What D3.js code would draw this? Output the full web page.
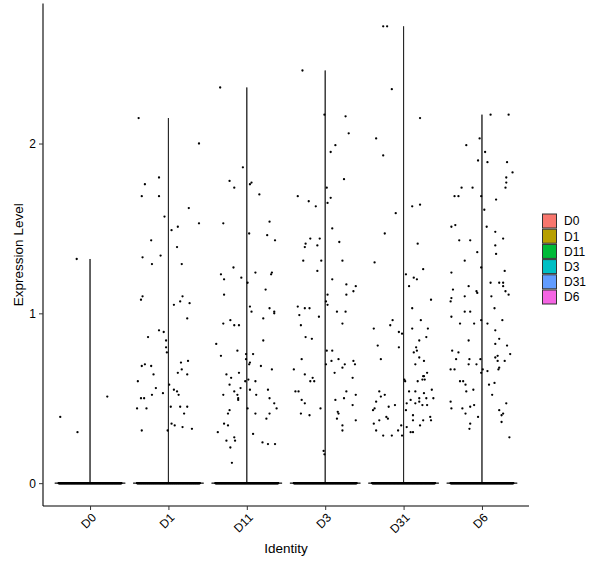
<!DOCTYPE html>
<html>
<head>
<meta charset="utf-8">
<script src="https://cdn.jsdelivr.net/npm/d3@7"></script>
<style>
  body { margin: 0; background: white; }
  text { font-family: "Liberation Sans", Arial, sans-serif; }
</style>
</head>
<body>
<svg id="vln"></svg>
<script>
const identities = ["D0", "D1", "D11", "D3", "D31", "D6"]
const identColors = ["#F8766D", "#B79F00", "#00BA38", "#00BFC4", "#619CFF", "#F564E3"]
const yTicks = [0, 1, 2]

// cells with zero expression per identity
const zeroCounts = [300, 260, 280, 270, 290, 270]

// non-zero cells: [expression, jitter offset in category widths]
const exprD0 = [[1.32,-0.17],[0.39,-0.38],[0.30,-0.16],[0.51,0.22]]
const exprD1 = [[2.15,-0.38],[2.00,0.39],[1.80,-0.12],[1.76,-0.30],[1.69,-0.34],[1.69,-0.12],[1.62,0.26],[1.57,-0.05],[1.51,0.12],[1.49,0.04],[1.53,0.39],[1.43,-0.22],[1.39,0.11],[1.33,-0.33],[1.34,-0.10],[1.29,-0.21],[1.29,0.17],[1.10,-0.33],[1.08,-0.35],[1.10,0.18],[1.07,0.15],[1.05,0.07],[1.06,0.27],[0.97,0.24],[0.90,-0.12],[0.89,-0.06],[0.86,-0.26],[0.84,-0.03],[0.80,-0.03],[0.77,-0.02],[0.69,-0.34],[0.70,-0.30],[0.69,-0.22],[0.71,0.16],[0.72,0.25],[0.67,0.17],[0.65,0.12],[0.64,0.24],[0.64,-0.19],[0.60,-0.39],[0.58,0.01],[0.56,-0.16],[0.55,0.07],[0.54,0.11],[0.52,0.13],[0.53,-0.07],[0.52,-0.21],[0.50,-0.35],[0.50,-0.31],[0.45,0.03],[0.45,0.15],[0.45,0.24],[0.44,-0.40],[0.44,-0.28],[0.41,0.20],[0.35,0.04],[0.34,0.08],[0.33,0.18],[0.32,0.30],[0.31,-0.34],[0.31,-0.01]]
const exprD11 = [[2.33,-0.34],[1.86,-0.05],[1.78,-0.22],[1.77,0.06],[1.76,0.04],[1.74,-0.16],[1.70,0.16],[1.53,-0.30],[1.54,0.29],[1.47,0.03],[1.46,0.26],[1.43,0.36],[1.27,-0.17],[1.23,-0.33],[1.24,0.11],[1.24,0.32],[1.23,0.31],[1.20,-0.29],[1.21,-0.07],[1.18,0.01],[1.14,0.24],[1.11,-0.29],[1.04,0.04],[1.01,0.06],[1.03,0.29],[1.01,0.35],[1.00,0.35],[0.97,0.21],[0.96,-0.21],[0.94,-0.30],[0.93,-0.16],[0.93,-0.10],[0.84,0.21],[0.82,-0.39],[0.75,-0.33],[0.78,-0.12],[0.76,-0.01],[0.76,0.08],[0.73,-0.01],[0.71,0.04],[0.70,0.03],[0.69,0.18],[0.67,0.32],[0.65,-0.10],[0.64,-0.26],[0.62,-0.20],[0.61,0.02],[0.60,0.11],[0.60,-0.02],[0.58,-0.22],[0.56,-0.08],[0.55,0.04],[0.55,0.27],[0.54,-0.16],[0.52,-0.30],[0.52,0.12],[0.52,-0.12],[0.50,-0.11],[0.49,-0.11],[0.50,0.29],[0.47,0.35],[0.44,0.01],[0.44,0.38],[0.43,-0.22],[0.41,-0.24],[0.41,0.11],[0.41,0.29],[0.38,0.25],[0.35,-0.29],[0.34,-0.24],[0.30,-0.37],[0.29,0.08],[0.25,-0.26],[0.27,-0.16],[0.25,-0.15],[0.24,0.20],[0.23,0.27],[0.23,0.36],[0.21,-0.21],[0.12,-0.19]]
const exprD3 = [[2.43,-0.29],[2.17,-0.01],[2.16,0.26],[2.06,0.30],[1.99,0.13],[1.95,0.07],[1.79,0.24],[1.74,0.02],[1.69,-0.35],[1.68,0.07],[1.66,-0.21],[1.65,0.03],[1.63,-0.12],[1.50,0.09],[1.44,-0.19],[1.44,-0.07],[1.42,0.18],[1.41,-0.25],[1.40,-0.10],[1.39,-0.26],[1.31,-0.28],[1.31,-0.05],[1.31,0.22],[1.25,-0.10],[1.20,0.09],[1.17,0.27],[1.16,0.39],[1.13,0.36],[1.11,0.03],[1.11,0.27],[1.07,0.01],[1.05,0.03],[1.04,-0.35],[1.03,-0.26],[1.03,-0.20],[1.01,0.15],[1.01,0.26],[0.99,-0.33],[0.98,-0.08],[0.94,0.22],[0.93,-0.31],[0.86,-0.25],[0.85,-0.17],[0.78,0.02],[0.78,0.09],[0.73,-0.30],[0.73,0.17],[0.72,0.08],[0.72,0.36],[0.70,0.01],[0.70,0.25],[0.70,0.38],[0.68,0.22],[0.67,-0.40],[0.65,0.12],[0.64,-0.26],[0.62,0.35],[0.62,-0.16],[0.60,-0.14],[0.60,-0.19],[0.54,-0.38],[0.54,-0.34],[0.54,0.27],[0.52,0.39],[0.49,-0.30],[0.49,0.13],[0.50,0.24],[0.47,-0.26],[0.46,0.35],[0.44,-0.06],[0.42,0.16],[0.41,0.17],[0.41,-0.31],[0.40,-0.20],[0.38,0.15],[0.37,0.39],[0.34,0.22],[0.31,0.22],[0.19,-0.02],[0.17,-0.01]]
const exprD31 = [[2.69,-0.26],[2.69,-0.21],[2.32,-0.15],[2.15,0.21],[2.03,-0.35],[1.93,-0.26],[1.63,0.11],[1.64,0.21],[1.59,-0.10],[1.47,-0.24],[1.41,0.18],[1.30,-0.37],[1.26,0.25],[1.23,0.03],[1.21,0.13],[1.20,0.17],[1.16,0.07],[1.08,0.35],[1.03,0.11],[0.96,0.22],[0.96,-0.14],[0.93,-0.17],[0.91,-0.38],[0.91,0.11],[0.91,0.31],[0.89,-0.06],[0.88,-0.02],[0.86,0.29],[0.84,0.20],[0.81,-0.33],[0.80,0.16],[0.80,-0.06],[0.78,0.17],[0.77,0.13],[0.74,0.20],[0.73,-0.29],[0.72,0.26],[0.70,0.15],[0.65,0.30],[0.63,0.25],[0.63,0.26],[0.61,0.01],[0.60,0.02],[0.60,0.18],[0.61,0.24],[0.61,0.27],[0.55,0.36],[0.54,-0.31],[0.54,0.07],[0.54,0.15],[0.53,0.26],[0.52,-0.24],[0.51,-0.29],[0.50,0.20],[0.50,0.29],[0.50,0.38],[0.49,0.09],[0.48,-0.35],[0.48,0.20],[0.47,0.04],[0.47,0.15],[0.46,0.24],[0.46,0.30],[0.46,-0.11],[0.45,-0.19],[0.44,-0.37],[0.43,-0.39],[0.43,0.03],[0.40,0.12],[0.39,-0.22],[0.39,0.34],[0.38,-0.20],[0.37,-0.31],[0.37,0.12],[0.37,0.35],[0.37,0.25],[0.35,-0.38],[0.34,0.21],[0.34,-0.03],[0.33,0.04],[0.31,-0.35],[0.31,-0.07],[0.30,0.12],[0.30,0.09],[0.28,-0.15],[0.28,-0.02],[0.28,-0.26]]
const exprD6 = [[2.17,0.11],[2.17,0.34],[2.03,-0.03],[1.99,-0.20],[1.95,0.04],[1.90,-0.05],[1.89,0.07],[1.89,0.32],[1.83,0.39],[1.80,0.31],[1.77,0.31],[1.74,0.30],[1.74,-0.26],[1.74,-0.12],[1.69,-0.35],[1.69,-0.30],[1.69,-0.01],[1.67,0.18],[1.61,0.03],[1.51,-0.39],[1.52,-0.34],[1.51,0.06],[1.48,0.17],[1.44,0.27],[1.43,-0.29],[1.43,-0.15],[1.40,0.17],[1.36,-0.06],[1.35,0.18],[1.31,-0.22],[1.27,-0.01],[1.24,-0.39],[1.25,0.29],[1.18,0.11],[1.18,0.22],[1.18,0.27],[1.16,0.27],[1.16,-0.17],[1.14,-0.37],[1.13,-0.07],[1.12,-0.06],[1.13,0.30],[1.11,0.34],[1.10,0.12],[1.10,-0.22],[1.09,-0.39],[1.07,-0.40],[1.03,0.16],[1.01,-0.22],[1.01,-0.15],[0.98,-0.39],[0.96,-0.01],[0.96,0.26],[0.94,-0.28],[0.94,0.07],[0.94,-0.10],[0.90,0.17],[0.85,0.22],[0.84,-0.17],[0.82,0.17],[0.81,0.32],[0.78,-0.38],[0.77,-0.30],[0.76,0.36],[0.75,0.20],[0.74,0.17],[0.73,-0.33],[0.73,-0.16],[0.73,-0.02],[0.72,0.20],[0.72,0.29],[0.70,-0.17],[0.70,-0.07],[0.67,-0.40],[0.67,-0.35],[0.68,0.22],[0.67,0.21],[0.67,0.01],[0.66,0.07],[0.65,-0.01],[0.60,-0.28],[0.60,-0.24],[0.58,-0.21],[0.59,0.16],[0.58,0.09],[0.55,-0.11],[0.54,-0.20],[0.52,0.13],[0.48,-0.40],[0.47,0.31],[0.45,-0.15],[0.46,-0.10],[0.44,-0.39],[0.44,-0.25],[0.43,0.22],[0.41,0.27],[0.41,-0.21],[0.40,0.25],[0.39,-0.05],[0.36,0.25],[0.35,-0.15],[0.32,-0.16],[0.27,0.35]]

const exprByIdent = [exprD0, exprD1, exprD11, exprD3, exprD31, exprD6]

const width = 600
const height = 568
const panel = {left: 43, right: 529, top: 3.5, bottom: 506}
const violinHalf = 0.45
const zeroJitter = 0.40

function buildGroups(){
    return identities.map((id, i) => {
        let cells = exprByIdent[i].map(d => ({value: d[0], jitter: d[1]}))
        let n = zeroCounts[i]
        for (let k = 0; k < n; k++){
            cells.push({value: 0, jitter: -zeroJitter + 2 * zeroJitter * k / (n - 1)})
        }
        return {id: id, color: identColors[i], cells: cells}
    })
}

function drawChart(){
    const groups = buildGroups()
    const svg = d3.select("#vln")
        .attr("width", width)
        .attr("height", height)

    const x = d3.scalePoint()
        .domain(identities)
        .range([panel.left, panel.right])
        .padding(0.6)
    const step = x.step()

    const maxVal = d3.max(groups, g => d3.max(g.cells, c => c.value))
    const pad = maxVal * 0.05
    const y = d3.scaleLinear()
        .domain([-pad, maxVal + pad])
        .range([panel.bottom, panel.top])

    // violins: density collapses to a spike at zero plus a hairline up to the max
    for (const g of groups){
        const cx = x(g.id)
        const top = d3.max(g.cells, c => c.value)
        const outline = [
            [cx - violinHalf * step, y(0)],
            [cx, y(0) - 0.3],
            [cx, y(top)],
            [cx, y(0) - 0.3],
            [cx + violinHalf * step, y(0)]
        ]
        svg.append("path")
            .attr("d", d3.line()(outline) + "Z")
            .attr("fill", g.color)
            .attr("stroke", "#222")
            .attr("stroke-width", 0.9)
    }

    // cells
    for (const g of groups){
        svg.append("g")
            .selectAll("circle")
            .data(g.cells)
            .join("circle")
            .attr("cx", c => x(g.id) + c.jitter * step)
            .attr("cy", c => y(c.value))
            .attr("r", 1.15)
            .attr("fill", "black")
    }

    // axes
    const yAxis = svg.append("g")
        .attr("transform", `translate(${panel.left},0)`)
        .call(d3.axisLeft(y).tickValues(yTicks).tickFormat(d3.format("d")).tickSize(4).tickPadding(3))
    yAxis.select(".domain")
        .attr("d", `M0,${panel.top}V${panel.bottom}`)
        .attr("stroke", "black")
        .attr("stroke-width", 1.1)
    yAxis.selectAll(".tick line").attr("stroke", "#333")
    yAxis.selectAll(".tick text")
        .attr("font-size", 12)
        .attr("fill", "black")

    const xAxis = svg.append("g")
        .attr("transform", `translate(0,${panel.bottom})`)
        .call(d3.axisBottom(x).tickSize(4))
    xAxis.select(".domain")
        .attr("d", `M${panel.left},0H${panel.right}`)
        .attr("stroke", "black")
        .attr("stroke-width", 1.1)
    xAxis.selectAll(".tick line").attr("stroke", "#333")
    xAxis.selectAll(".tick text")
        .attr("font-size", 12)
        .attr("fill", "black")
        .attr("text-anchor", "end")
        .attr("y", 0)
        .attr("dy", "0.75em")
        .attr("transform", "translate(0,6) rotate(-45)")

    svg.append("text")
        .text("Identity")
        .attr("x", (panel.left + panel.right) / 2)
        .attr("y", 553)
        .attr("text-anchor", "middle")
        .attr("font-size", 13.5)
        .attr("fill", "black")

    svg.append("text")
        .text("Expression Level")
        .attr("transform", `translate(23,${(panel.top + panel.bottom) / 2}) rotate(-90)`)
        .attr("text-anchor", "middle")
        .attr("font-size", 13.5)
        .attr("fill", "black")

    addLegend(svg, groups)
}

function addLegend(svg, groups){
    const keyX = 542.5
    const keyY = 214
    const keySize = 14
    const keyStep = 15.2

    const legend = svg.append("g")
    groups.forEach((g, i) => {
        legend.append("rect")
            .attr("x", keyX)
            .attr("y", keyY + i * keyStep)
            .attr("width", keySize)
            .attr("height", keySize)
            .attr("fill", g.color)
            .attr("stroke", "#333")
            .attr("stroke-width", 1)

        legend.append("text")
            .text(g.id)
            .attr("x", keyX + 21.5)
            .attr("y", keyY + i * keyStep + keySize / 2)
            .attr("dy", "0.36em")
            .attr("font-size", 12)
            .attr("fill", "black")
    })
}

drawChart()
</script>
</body>
</html>
